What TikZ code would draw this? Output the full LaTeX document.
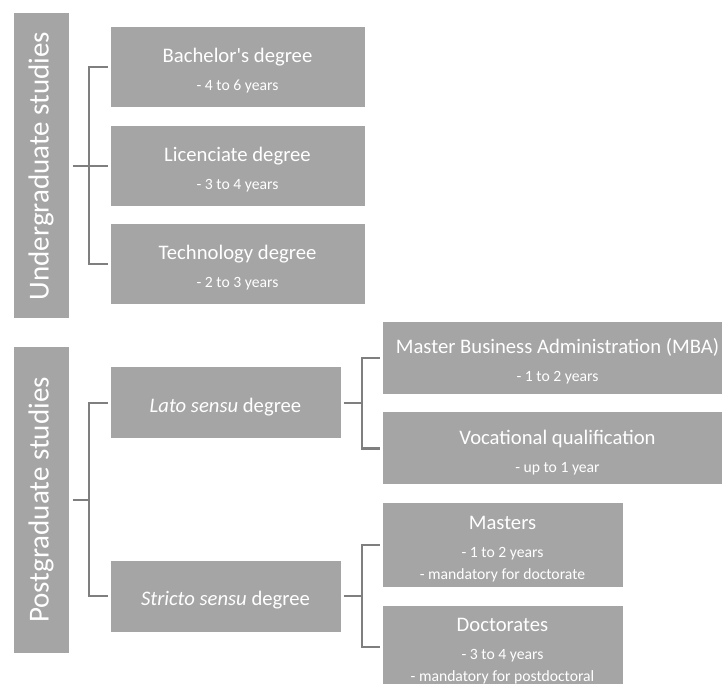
\documentclass[tikz,border=0pt]{standalone}
\usepackage{fontspec}
\setmainfont{Carlito}
% one screen pixel of the layout grid
\newdimen\pxu \pxu=0.75pt
\definecolor{boxgray}{HTML}{A5A5A5}
\definecolor{linegray}{HTML}{7F7F7F}
% title line of a box; the strut gives the text block its top margin
\newcommand\headline[1]{{\fontsize{15.5}{16.5}\selectfont\rule{0pt}{16.5pt}#1}}
\tikzset{
  box/.style={fill=boxgray, draw=white, line width=0.75pt, text=white,
    inner sep=0pt, align=center, font=\fontsize{11.75}{16.5}\selectfont},
  groupbox/.style={box, rotate=90, font=\fontsize{21.75}{26}\selectfont},
  conn/.style={draw=linegray, line width=1.7pt},
  tobox/.style={conn, shorten <=2\pxu},
}
\begin{document}
\begin{tikzpicture}[x=0.75pt, y=-0.75pt]
\useasboundingbox (0,0) rectangle (722,684);

% ---- undergraduate branch ----
\node[groupbox, minimum width=306\pxu, minimum height=56\pxu] (ug) at (41,166) {Undergraduate studies};
\node[box, minimum width=255\pxu, minimum height=81\pxu] (bach) at (237.5,67)
  {\headline{Bachelor\textquotesingle s degree}\\[4.5pt]- 4 to 6 years};
\node[box, minimum width=255\pxu, minimum height=81\pxu] (lic) at (237.5,166)
  {\headline{Licenciate degree}\\[4.5pt]- 3 to 4 years};
\node[box, minimum width=255\pxu, minimum height=81\pxu] (tech) at (237.5,264)
  {\headline{Technology degree}\\[4.5pt]- 2 to 3 years};

% ---- postgraduate branch ----
\node[groupbox, minimum width=306\pxu, minimum height=56\pxu] (pg) at (41,500) {Postgraduate studies};
\node[box, minimum width=231\pxu, minimum height=72\pxu] (lato) at (225.5,403)
  {\headline{\textit{Lato sensu} degree}};
\node[box, minimum width=231\pxu, minimum height=72\pxu] (stricto) at (225.5,596)
  {\headline{\textit{Stricto sensu} degree}};

\node[box, minimum width=351\pxu, minimum height=73\pxu] (mba) at (557.5,358)
  {\headline{Master Business Administration (MBA)}\\[4.5pt]- 1 to 2 years};
\node[box, minimum width=351\pxu, minimum height=73\pxu] (voc) at (557.5,448.5)
  {\headline{Vocational qualification}\\[4.5pt]- up to 1 year};
\node[box, minimum width=241\pxu, minimum height=84\pxu] (mast) at (502.5,545)
  {\headline{Masters}\\[4.5pt]- 1 to 2 years\\- mandatory for doctorate};
\node[box, minimum width=241\pxu, minimum height=84\pxu] (doc) at (502.5,647)
  {\headline{Doctorates}\\[4.5pt]- 3 to 4 years\\- mandatory for postdoctoral};

% ---- bracket connectors ----
\coordinate (ugbus) at (89,166);
\coordinate (pgbus) at (89,500);
\coordinate (latobus) at (362,403);
\coordinate (strbus) at (362,596);

\draw[conn, shorten <=3\pxu] (ug) -- (ugbus);
\draw[tobox] (bach.west) -| (ugbus);
\draw[tobox] (lic.west) -- (ugbus);
\draw[tobox] (tech.west) -| (ugbus);

\draw[conn, shorten <=3\pxu] (pg) -- (pgbus);
\draw[tobox] (lato.west) -| (pgbus);
\draw[tobox] (stricto.west) -| (pgbus);

\draw[tobox] (lato.east) -- (latobus);
\draw[tobox] (mba.west) -| (latobus);
\draw[tobox] (voc.west) -| (latobus);

\draw[tobox] (stricto.east) -- (strbus);
\draw[tobox] (mast.west) -| (strbus);
\draw[tobox] (doc.west) -| (strbus);
\end{tikzpicture}
\end{document}
